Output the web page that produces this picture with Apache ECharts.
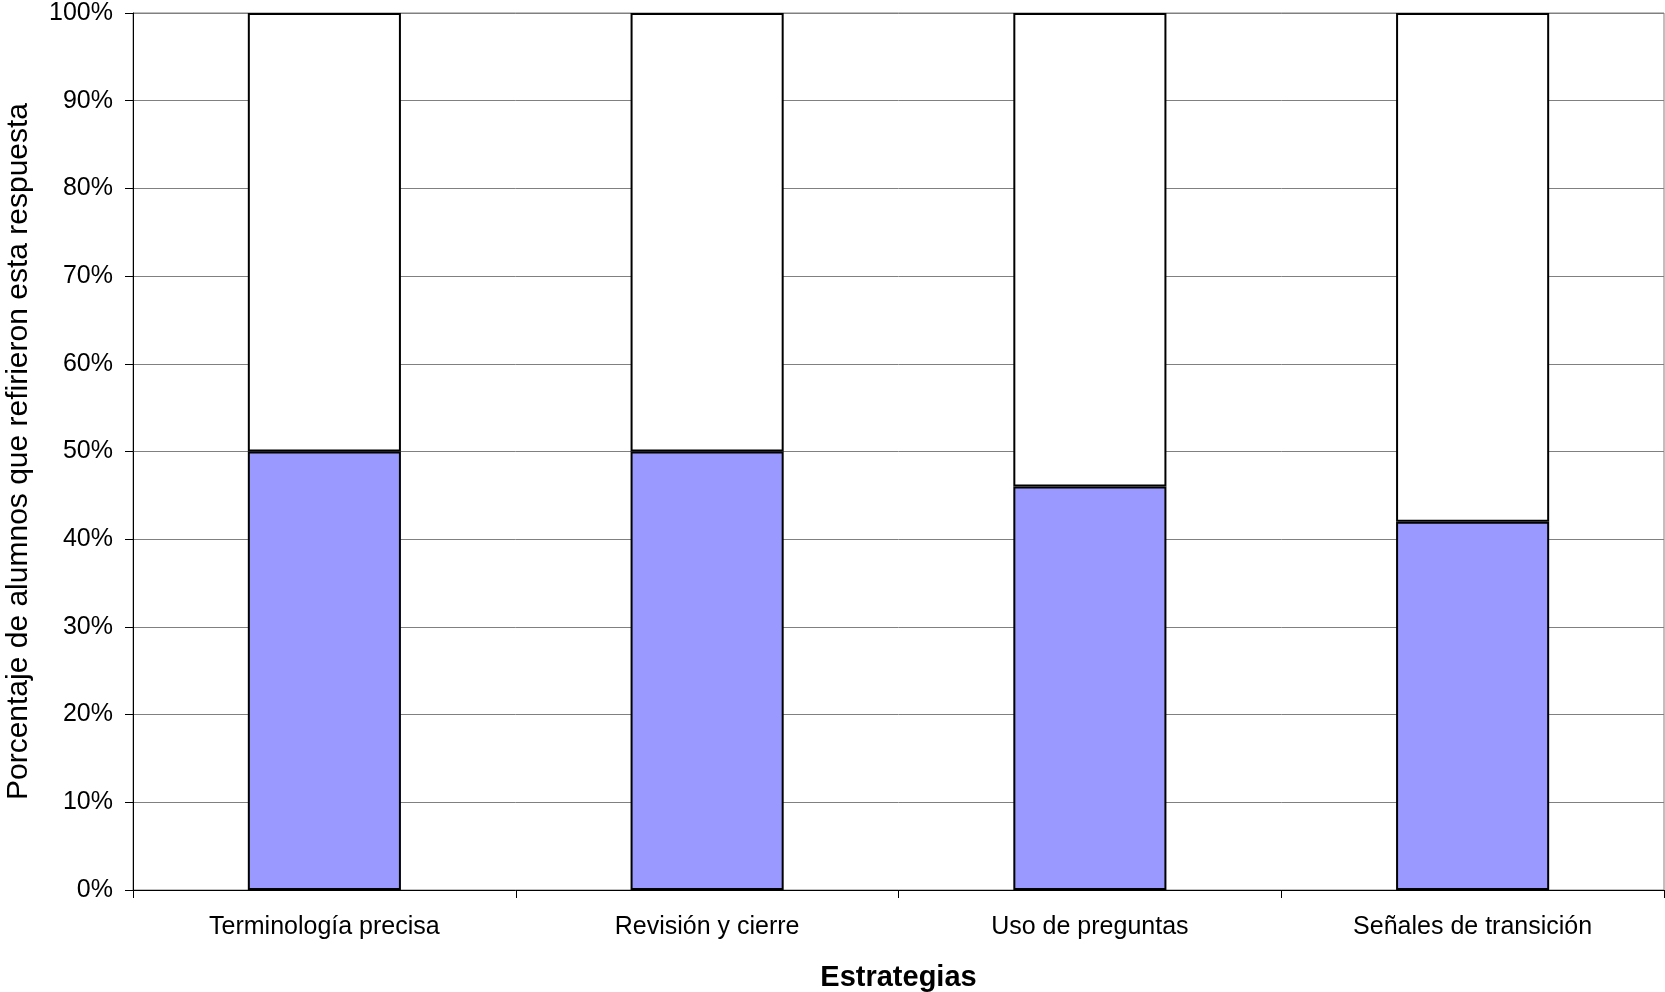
<!DOCTYPE html>
<html>
<head>
<meta charset="utf-8">
<script src="https://cdn.jsdelivr.net/npm/echarts@6/dist/echarts.min.js"></script>
<style>
html,body{margin:0;padding:0;background:#fff;}
#chart{width:1665px;height:992px;}
</style>
</head>
<body>
<div id="chart"></div>
<script>
const categories = ["Terminología precisa", "Revisión y cierre", "Uso de preguntas", "Señales de transición"];
const siValues = [50, 50, 46, 42];
const restValues = [50, 50, 54, 58];
const yTicks = [0, 10, 20, 30, 40, 50, 60, 70, 80, 90, 100];

const chart = echarts.init(document.getElementById('chart'));
const font = 'Liberation Sans, Arial, sans-serif';
chart.setOption({
  animation: false,
  backgroundColor: '#fff',
  grid: {
    left: 133, right: 1, top: 13, bottom: 102,
    outerBoundsMode: 'none',
    containLabel: false,
    show: true, borderColor: '#808080', borderWidth: 1, backgroundColor: '#fff'
  },
  xAxis: {
    type: 'category',
    data: categories,
    name: 'Estrategias',
    nameLocation: 'middle',
    nameGap: 73,
    nameTextStyle: { fontFamily: font, fontSize: 29, fontWeight: 'bold', color: '#000' },
    axisLine: { lineStyle: { color: '#000', width: 1 } },
    axisTick: { show: true, length: 8, lineStyle: { color: '#000' }, alignWithLabel: false },
    axisLabel: { fontFamily: font, fontSize: 25, color: '#000', margin: 25 },
    splitLine: { show: false }
  },
  yAxis: {
    type: 'value',
    min: yTicks[0],
    max: yTicks[yTicks.length - 1],
    interval: 10,
    name: 'Porcentaje de alumnos que refirieron esta respuesta',
    nameLocation: 'middle',
    nameGap: 99,
    nameTextStyle: { fontFamily: font, fontSize: 30, color: '#000' },
    axisLine: { show: true, lineStyle: { color: '#000', width: 1 } },
    axisTick: { show: true, length: 8, lineStyle: { color: '#000' } },
    axisLabel: { fontFamily: font, fontSize: 25, color: '#000', margin: 20, formatter: '{value}%' },
    splitLine: { show: true, lineStyle: { color: '#808080', width: 1 } }
  },
  series: [
    {
      type: 'bar', stack: 'total', data: siValues,
      barCategoryGap: '60%',
      itemStyle: { color: '#9999FF', borderColor: '#000', borderWidth: 2 }
    },
    {
      type: 'bar', stack: 'total', data: restValues,
      barCategoryGap: '60%',
      itemStyle: { color: '#FFFFFF', borderColor: '#000', borderWidth: 2 }
    }
  ]
});
</script>
</body>
</html>
